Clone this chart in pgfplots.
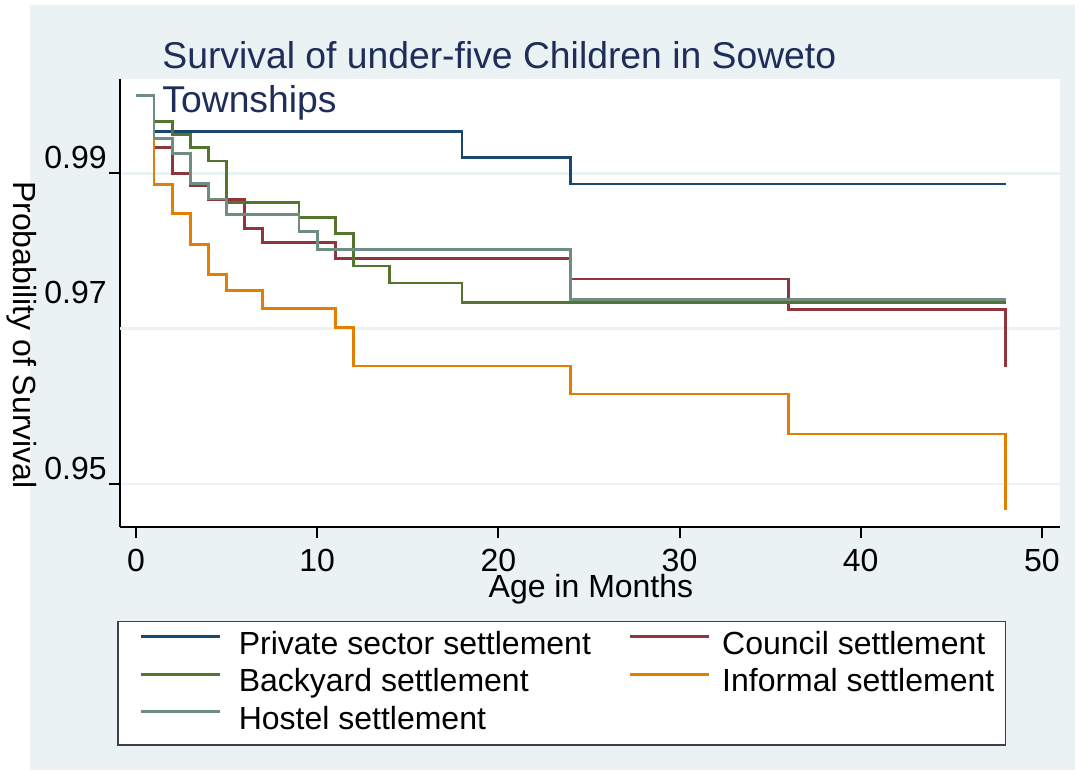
\documentclass[border=0pt]{standalone}
\usepackage{pgfplots}
\usepackage{pgfplotstable}
\pgfplotsset{compat=1.18}
\usepackage{fontspec}
\setmainfont{Liberation Sans}
\definecolor{bg}{RGB}{234,242,243}
\definecolor{snavy}{RGB}{26,71,111}
\definecolor{smaroon}{RGB}{144,53,59}
\definecolor{sgreen}{RGB}{85,117,47}
\definecolor{sorange}{RGB}{227,126,0}
\definecolor{steal}{RGB}{110,142,132}
\definecolor{stitle}{RGB}{30,45,90}
\newcommand{\lblfont}{\fontsize{16}{19.2}\selectfont}
\newcommand{\ttlfont}{\fontsize{18.65}{22}\selectfont}
\newcommand{\colA}[1]{\makebox[195pt][l]{#1}}
\pgfplotsset{
  colAimg/.style={legend image code/.code={\path[draw=none] (0pt,0pt) -- (55pt,0pt); \draw[##1] (6pt,8.7pt) -- (45.5pt,8.7pt);}},
  colBimg/.style={legend image code/.code={\path[draw=none] (0pt,0pt) -- (46pt,0pt); \draw[##1] (0pt,8.7pt) -- (39.5pt,8.7pt);}},
}

\pgfplotstableread{
t s
0 1
1 0.99535
18 0.99206
24 0.98862
48 0.98862
}\privatetab
\pgfplotstableread{
t s
0 1
1 0.99335
2 0.99000
3 0.98837
4 0.98660
6 0.98292
7 0.98105
11 0.97904
24 0.97640
36 0.97250
48 0.96511
}\counciltab
\pgfplotstableread{
t s
0 1
1 0.99664
2 0.99497
3 0.99332
4 0.99158
5 0.98622
9 0.98436
11 0.98224
12 0.97807
14 0.97588
18 0.97340
48 0.97340
}\backyardtab
\pgfplotstableread{
t s
0 1
1 0.98860
2 0.98478
3 0.98088
4 0.97693
5 0.97487
7 0.97263
11 0.97013
12 0.96520
24 0.96160
36 0.95645
48 0.94667
}\informaltab
\pgfplotstableread{
t s
0 1
1 0.99448
2 0.99257
3 0.98866
4 0.98670
5 0.98468
9 0.98254
10 0.98022
24 0.97379
48 0.97379
}\hosteltab

\begin{document}
\begin{tikzpicture}
\fill[white] (0,0) rectangle (537.5pt,-385.5pt);
\fill[bg] (15pt,-2.5pt) rectangle (537.5pt,-385pt);
\begin{axis}[
  at={(60pt,-39.5pt)}, anchor=north west,
  scale only axis, width=470pt, height=224pt,
  xmin=-0.88, xmax=51, ymin=0.94449, ymax=1.00213,
  axis x line*=bottom, axis y line*=left,
  axis line style={black, line width=1pt},
  axis background/.style={fill=white},
  tick align=outside, major tick length=5.5pt,
  tick style={black, line width=1pt},
  xtick={0,10,20,30,40,50},
  ytick={0.95,0.99}, yticklabels={0.95,0.99},
  extra y ticks={0.97}, extra y tick labels={0.97},
  extra y tick style={major tick length=0pt, grid=major, grid style={bg, line width=1.3pt}, yticklabel style={yshift=10pt, xshift=-5.5pt}},
  ymajorgrids, grid style={bg, line width=1.3pt},
  /pgf/number format/assume math mode=true,
  tick label style={font=\lblfont},
  xticklabel style={anchor=base, inner sep=0pt, yshift=-16.6pt},
  yticklabel style={anchor=base east, inner sep=0pt, yshift=2.5pt, xshift=-1pt},
  xlabel={Age in Months},
  ylabel={Probability of Survival},
  every axis x label/.style={at={(axis description cs:0.501,-0.1574)}, anchor=base, inner sep=0pt, font=\lblfont},
  every axis y label/.style={at={(axis description cs:-0.1043,0.4286)}, rotate=-90, anchor=center, inner sep=0pt, font=\lblfont},
  title={Survival of under-five Children in Soweto\\Townships},
  every axis title/.style={at={(axis description cs:0.04468,1.0840)}, anchor=north west, align=left, inner sep=0pt, font=\ttlfont, text=stitle},
  legend columns=2,
  legend cell align=left,
  legend style={
    at={(axis description cs:-0.00319,-0.20915)}, anchor=north west,
    draw=black!75, line width=0.8pt, fill=white,
    inner xsep=5.5pt, inner ysep=4.3pt,
    column sep=0pt, row sep=3.25pt,
    font=\lblfont,
    cells={anchor=base west},
    nodes={inner sep=0pt, text height=12pt, text depth=3.5pt, anchor=base west},
  },
  colAimg,
  every axis plot/.append style={line width=1.4pt, const plot},
]
\addplot[snavy] table[x=t,y=s] {\privatetab};
\addlegendentry{\colA{Private sector settlement}}
\addplot[smaroon, colBimg] table[x=t,y=s] {\counciltab};
\addlegendentry{Council settlement}
\addplot[sgreen] table[x=t,y=s] {\backyardtab};
\addlegendentry{\colA{Backyard settlement}}
\addplot[sorange, colBimg] table[x=t,y=s] {\informaltab};
\addlegendentry{Informal settlement}
\addplot[steal] table[x=t,y=s] {\hosteltab};
\addlegendentry{\colA{Hostel settlement}}
\end{axis}
\end{tikzpicture}
\end{document}
